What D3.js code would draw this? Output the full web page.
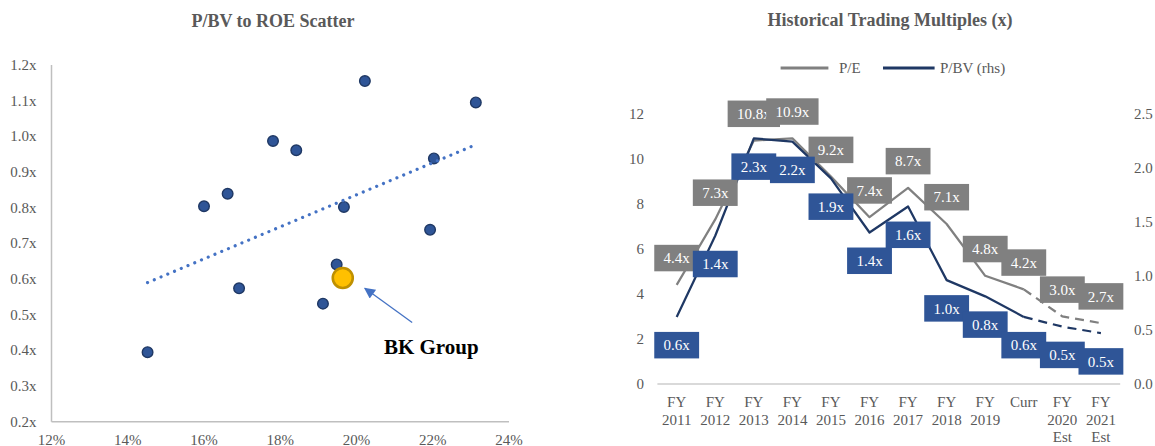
<!DOCTYPE html>
<html>
<head>
<meta charset="utf-8">
<script src="https://cdn.jsdelivr.net/npm/d3@7/dist/d3.min.js"></script>
<style>
  html, body { margin: 0; padding: 0; background: #fff; }
  svg { display: block; font-family: "Liberation Serif", "Times New Roman", serif; }
</style>
</head>
<body>
<svg id="chart" width="1155" height="446"></svg>
<script>
// ---------- Scatter data ----------
const peerRoe = [14.52, 16.00, 16.62, 16.92, 17.81, 18.42, 19.12, 19.48, 19.67, 20.22, 21.93, 22.03, 23.13];
const peerPbv = [0.395, 0.804, 0.839, 0.574, 0.987, 0.961, 0.531, 0.641, 0.802, 1.155, 0.738, 0.938, 1.095];
const bkRoe = 19.64;
const bkPbv = 0.603;
const bkLabel = "BK Group";
const trendRoe = [14.52, 23.16];
const trendPbv = [0.590, 0.978];
const arrowRoe = [21.46, 20.22];   // tail, head
const arrowPbv = [0.478, 0.574];
const labelRoe = 20.72, labelPbv = 0.391;
const scatterXTicks = [12, 14, 16, 18, 20, 22, 24];
const scatterYTicks = [0.2, 0.3, 0.4, 0.5, 0.6, 0.7, 0.8, 0.9, 1.0, 1.1, 1.2];
const scatterTitle = "P/BV to ROE Scatter";

// ---------- Multiples data ----------
const categories = ["FY 2011", "FY 2012", "FY 2013", "FY 2014", "FY 2015", "FY 2016", "FY 2017", "FY 2018", "FY 2019", "Curr", "FY 2020 Est", "FY 2021 Est"];
const categoryLines = [["FY","2011"],["FY","2012"],["FY","2013"],["FY","2014"],["FY","2015"],["FY","2016"],["FY","2017"],["FY","2018"],["FY","2019"],["Curr"],["FY","2020","Est"],["FY","2021","Est"]];
const peValues = [4.4, 7.3, 10.8, 10.9, 9.2, 7.4, 8.7, 7.1, 4.8, 4.2, 3.0, 2.7];
const pbvValues = [0.62, 1.37, 2.27, 2.24, 1.90, 1.40, 1.64, 0.96, 0.81, 0.62, 0.53, 0.47];
const leftTicks = [0, 2, 4, 6, 8, 10, 12];
const rightTicks = [0.0, 0.5, 1.0, 1.5, 2.0, 2.5];
const dashFrom = 9; // index from which estimates are dashed
const multTitle = "Historical Trading Multiples (x)";
const seriesNames = ["P/E", "P/BV (rhs)"];

const svg = d3.select("#chart");
const tickColor = "#595959";
const fmt1 = d3.format(".1f");

// =============== LEFT: scatter ===============
const xS = d3.scaleLinear().domain([12, 24]).range([51.5, 509]);
const yS = d3.scaleLinear().domain([0.2, 1.2]).range([421.7, 65]);

svg.append("text").attr("x", 273).attr("y", 27).attr("text-anchor", "middle")
  .attr("font-weight", "bold").attr("font-size", 18).attr("fill", tickColor).text(scatterTitle);

const gS = svg.append("g");
gS.append("line").attr("x1", xS(12)).attr("x2", xS(12)).attr("y1", yS(1.2)).attr("y2", yS(0.2))
  .attr("stroke", "#BFBFBF").attr("stroke-width", 1.5);
gS.append("line").attr("x1", xS(12)).attr("x2", xS(24)).attr("y1", yS(0.2)).attr("y2", yS(0.2))
  .attr("stroke", "#BFBFBF").attr("stroke-width", 1.5);
gS.selectAll("text.yt").data(scatterYTicks).join("text").attr("class", "yt")
  .attr("x", 36.5).attr("y", d => yS(d) + 5).attr("text-anchor", "end")
  .attr("font-size", 15).attr("fill", tickColor).text(d => fmt1(d) + "x");
gS.selectAll("text.xt").data(scatterXTicks).join("text").attr("class", "xt")
  .attr("x", d => xS(d)).attr("y", 444.5).attr("text-anchor", "middle")
  .attr("font-size", 15).attr("fill", tickColor).text(d => d + "%");

const peers = peerRoe.map((r, i) => ({ r, p: peerPbv[i] }));
gS.selectAll("circle.peer").data(peers).join("circle").attr("class", "peer")
  .attr("cx", d => xS(d.r)).attr("cy", d => yS(d.p)).attr("r", 5.3)
  .attr("fill", "#2F5597").attr("stroke", "#1F3864").attr("stroke-width", 1.4);
gS.append("line").attr("x1", xS(trendRoe[0])).attr("y1", yS(trendPbv[0]))
  .attr("x2", xS(trendRoe[1])).attr("y2", yS(trendPbv[1]))
  .attr("stroke", "#4472C4").attr("stroke-width", 3.2).attr("stroke-linecap", "round")
  .attr("stroke-dasharray", "0.01,7.3");
gS.append("circle").attr("cx", xS(bkRoe)).attr("cy", yS(bkPbv)).attr("r", 10)
  .attr("fill", "#FFC000").attr("stroke", "#BF9000").attr("stroke-width", 2.6);
const defs = svg.append("defs");
defs.append("marker").attr("id", "ah").attr("viewBox", "0 0 10 10").attr("refX", 9).attr("refY", 5)
  .attr("markerWidth", 14).attr("markerHeight", 11).attr("markerUnits", "userSpaceOnUse").attr("orient", "auto")
  .append("path").attr("d", "M0,0 L10,5 L0,10 Z").attr("fill", "#4472C4");
gS.append("line").attr("x1", xS(arrowRoe[0])).attr("y1", yS(arrowPbv[0]))
  .attr("x2", xS(arrowRoe[1])).attr("y2", yS(arrowPbv[1]))
  .attr("stroke", "#4472C4").attr("stroke-width", 1.3).attr("marker-end", "url(#ah)");
gS.append("text").attr("x", xS(labelRoe)).attr("y", yS(labelPbv)).attr("font-size", 21)
  .attr("font-weight", "bold").attr("fill", "#000").text(bkLabel);

// =============== RIGHT: multiples ===============
const xB = d3.scaleBand().domain(categories).range([657.4, 1120.2]).padding(0);
const cx = c => xB(c) + xB.bandwidth() / 2;
const yL = d3.scaleLinear().domain([0, 12]).range([384, 113.5]);
const yR = d3.scaleLinear().domain([0, 2.5]).range([384, 113.5]);

svg.append("text").attr("x", 890).attr("y", 26).attr("text-anchor", "middle")
  .attr("font-weight", "bold").attr("font-size", 18).attr("fill", tickColor).text(multTitle);

const gM = svg.append("g");
gM.append("line").attr("x1", 657.4).attr("x2", 1120.2).attr("y1", yL(0)).attr("y2", yL(0))
  .attr("stroke", "#D9D9D9").attr("stroke-width", 1.8);
gM.selectAll("text.lt").data(leftTicks).join("text").attr("class", "lt")
  .attr("x", 644).attr("y", d => yL(d) + 5).attr("text-anchor", "end")
  .attr("font-size", 15).attr("fill", tickColor).text(d => d);
gM.selectAll("text.rt").data(rightTicks).join("text").attr("class", "rt")
  .attr("x", 1134).attr("y", d => yR(d) + 5).attr("text-anchor", "start")
  .attr("font-size", 15).attr("fill", tickColor).text(d => fmt1(d));
categories.forEach((c, i) => {
  const t = gM.append("text").attr("text-anchor", "middle").attr("font-size", 15).attr("fill", tickColor);
  categoryLines[i].forEach((ln, j) => {
    t.append("tspan").attr("x", cx(c)).attr("y", 407 + j * 17.5).text(ln);
  });
});

const peColor = "#808080", pbvColor = "#1F3864";
const idx = d3.range(categories.length);
const lineL = d3.line().x(i => cx(categories[i])).y(i => yL(peValues[i]));
const lineR = d3.line().x(i => cx(categories[i])).y(i => yR(pbvValues[i]));
const solidIdx = idx.filter(i => i <= dashFrom), dashIdx = idx.filter(i => i >= dashFrom);
gM.append("path").attr("d", lineL(solidIdx)).attr("fill", "none").attr("stroke", peColor).attr("stroke-width", 2.25).attr("stroke-linejoin", "round");
gM.append("path").attr("d", lineL(dashIdx)).attr("fill", "none").attr("stroke", peColor).attr("stroke-width", 2.25).attr("stroke-dasharray", "9,6");
gM.append("path").attr("d", lineR(solidIdx)).attr("fill", "none").attr("stroke", pbvColor).attr("stroke-width", 2.25).attr("stroke-linejoin", "round");
gM.append("path").attr("d", lineR(dashIdx)).attr("fill", "none").attr("stroke", pbvColor).attr("stroke-width", 2.25).attr("stroke-dasharray", "9,6");

function addLabel(x, centerY, txt, fill) {
  const g = gM.append("g");
  const r = g.append("rect").attr("fill", fill);
  const t = g.append("text").attr("x", x).attr("y", centerY + 5.2).attr("text-anchor", "middle")
    .attr("font-size", 15).attr("fill", "#fff").text(txt);
  const w = t.node().getComputedTextLength() + 18.6;
  r.attr("x", x - w / 2).attr("y", centerY - 13.25).attr("width", w).attr("height", 26.5);
}
idx.forEach(i => addLabel(cx(categories[i]), yL(peValues[i]) - 26.75, fmt1(peValues[i]) + "x", "#808080"));
idx.forEach(i => addLabel(cx(categories[i]), yR(pbvValues[i]) + 28.25, fmt1(pbvValues[i]) + "x", "#2F5597"));

const lg = svg.append("g");
lg.append("line").attr("x1", 780.6).attr("x2", 828.4).attr("y1", 68).attr("y2", 68).attr("stroke", peColor).attr("stroke-width", 3);
lg.append("text").attr("x", 839).attr("y", 73).attr("font-size", 15).attr("fill", tickColor).text(seriesNames[0]);
lg.append("line").attr("x1", 883).attr("x2", 934.6).attr("y1", 68).attr("y2", 68).attr("stroke", pbvColor).attr("stroke-width", 3);
lg.append("text").attr("x", 940).attr("y", 73).attr("font-size", 15).attr("fill", tickColor).text(seriesNames[1]);
</script>
</body>
</html>
